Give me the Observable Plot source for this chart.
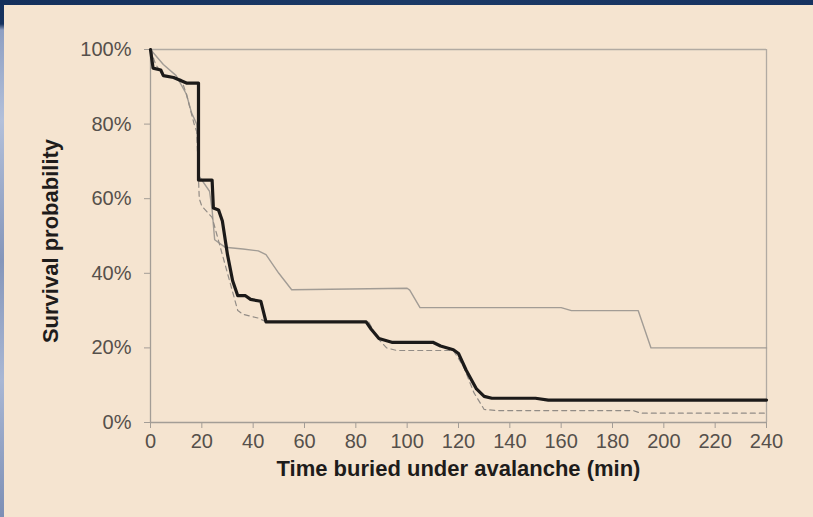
<!DOCTYPE html>
<html>
<head>
<meta charset="utf-8">
<script src="https://cdn.jsdelivr.net/npm/d3@7"></script>
<script src="https://cdn.jsdelivr.net/npm/@observablehq/plot@0.6"></script>
<style>
  html, body { margin: 0; padding: 0; }
  body { width: 813px; height: 517px; overflow: hidden; }
  #bg { position: absolute; left: 0; top: 0; width: 813px; height: 517px;
        background: linear-gradient(180deg, #14305c 0px, #17335f 24px, #8e9fc2 30px, #b3c0da 120px, #8596ba 260px, #a9b7d4 380px, #7d8fb5 517px); }
  #topbar { position: absolute; left: 0; top: 0; width: 813px; height: 5px;
        background: linear-gradient(90deg, #14305c, #1b3966 50%, #163260); }
  #chart { position: absolute; left: 4px; top: 5px; width: 809px; height: 512px; background: #f5e4d0; }
  #chart svg { display: block; }
</style>
</head>
<body>
<div id="bg"></div>
<div id="topbar"></div>
<div id="chart"></div>
<script>
// Tick values
const xTicks = [0, 20, 40, 60, 80, 100, 120, 140, 160, 180, 200, 220, 240];
const yTicks = [0, 20, 40, 60, 80, 100];

// Thick black survival curve (minutes, %)
const blackTime = [0, 1, 4, 5, 9, 14, 18.7, 18.7, 24, 24.5, 26.5, 28, 30, 32, 34, 37, 39, 43, 45, 84, 86, 89, 94, 110, 113, 118, 120, 123, 127, 130, 133, 150, 155, 240];
const blackSurv = [100, 95, 94.5, 93, 92.5, 91, 91, 65, 65, 57.5, 57, 54, 45, 38, 34, 34, 33, 32.5, 27, 27, 25, 22.5, 21.5, 21.5, 20.5, 19.5, 18.5, 14, 9, 7, 6.5, 6.5, 6, 6];

// Thin grey solid curve
const greyTime = [0, 5, 10, 14, 16, 18, 19, 23, 24, 25, 29, 36, 42, 45, 50, 55, 100, 101, 105, 160, 164, 190, 195, 240];
const greySurv = [100, 96, 93, 88, 83, 80, 66, 62, 57, 49, 47, 46.5, 46, 45, 40, 35.6, 36, 35.5, 30.8, 30.8, 30, 30, 20, 20];

// Dashed grey curve
const dashTime = [0, 2, 5, 12, 14, 17, 18, 19, 20, 24, 26, 30, 34, 36, 42, 45, 85, 88, 92, 96, 118, 122, 126, 130, 135, 188, 191, 240];
const dashSurv = [100, 96, 93, 92, 88, 80, 78, 60, 58, 55, 50, 40, 30, 29, 28, 27, 27, 23, 20, 19.3, 19.3, 15, 8, 3.5, 3.2, 3.2, 2.5, 2.5];

const toRows = (t, s) => t.map((d, i) => ({time: d, surv: s[i]}));
const black = toRows(blackTime, blackSurv);
const grey = toRows(greyTime, greySurv);
const dash = toRows(dashTime, dashSurv);

const chart = Plot.plot({
  width: 809,
  height: 512,
  marginLeft: 146,
  marginRight: 47,
  marginTop: 44,
  marginBottom: 95,
  style: {background: "transparent", fontFamily: "Liberation Sans, Arial, sans-serif"},
  x: {domain: [0, 240], ticks: xTicks},
  y: {domain: [0, 100], ticks: yTicks},
  marks: [
    Plot.ruleY([100], {stroke: "#b1aaa2", strokeWidth: 1.3}),
    Plot.ruleX([240], {stroke: "#b1aaa2", strokeWidth: 1.3}),
    Plot.ruleX([0], {stroke: "#a39d96", strokeWidth: 1.3}),
    Plot.ruleY([0], {stroke: "#a39d96", strokeWidth: 1.3}),
    Plot.axisX({ticks: xTicks, tickSize: 6, tickPadding: 5, fontSize: 20, label: null, stroke: "#a39d96", color: "#55504b", tickFormat: d => String(d)}),
    Plot.axisY({ticks: yTicks, tickSize: 6, tickPadding: 13, fontSize: 20, label: null, stroke: "#a39d96", color: "#55504b", tickFormat: d => d + "%"}),
    Plot.line(grey, {x: "time", y: "surv", stroke: "#a29c95", strokeWidth: 1.4}),
    Plot.line(dash, {x: "time", y: "surv", stroke: "#928c86", strokeWidth: 1.2, strokeDasharray: "5,4"}),
    Plot.line(black, {x: "time", y: "surv", stroke: "#1c1a19", strokeWidth: 3.2, strokeLinejoin: "round"}),
    Plot.text(["Time buried under avalanche (min)"], {frameAnchor: "bottom", dy: 53, text: d => d, fontSize: 22, fontWeight: "bold", fill: "#1e1c1b"}),
    Plot.text(["Survival probability"], {frameAnchor: "left", dx: -100, dy: 5, rotate: -90, textAnchor: "middle", text: d => d, fontSize: 22, fontWeight: "bold", fill: "#1e1c1b"})
  ]
});
document.getElementById("chart").appendChild(chart);
</script>
</body>
</html>
